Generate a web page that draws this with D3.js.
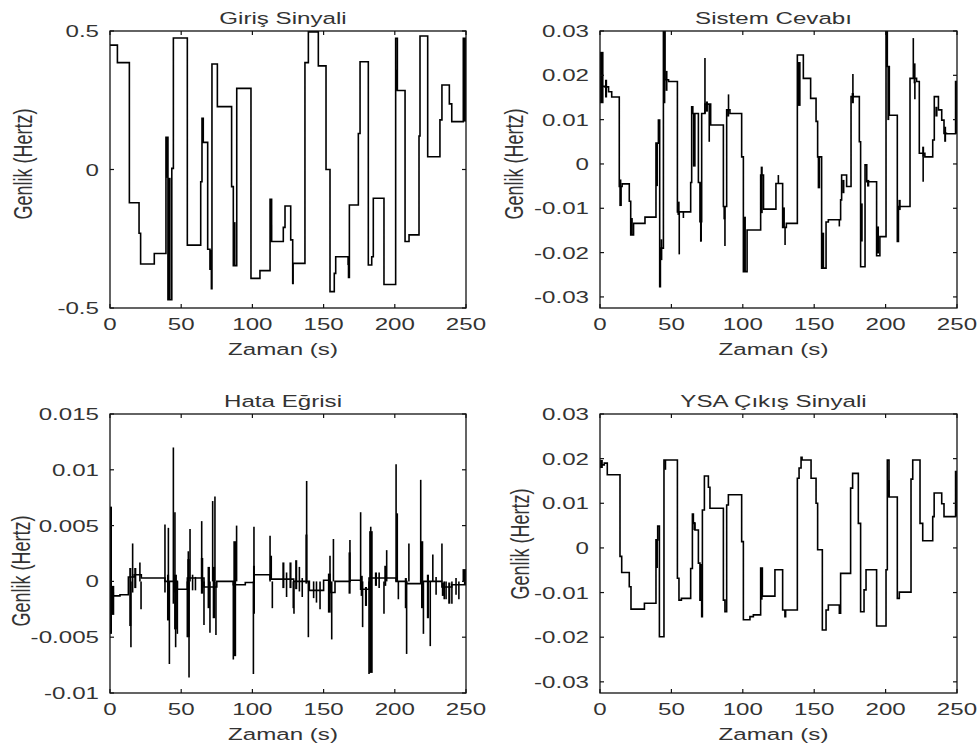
<!doctype html>
<html lang="tr">
<head>
<meta charset="utf-8">
<script src="https://d3js.org/d3.v7.min.js"></script>
<style>
  body { margin: 0; background: #fff; }
  text { font-family: "Liberation Sans", Arial, sans-serif; fill: #333; }
</style>
</head>
<body>
<svg id="plot" width="979" height="751"></svg>
<script>
// ---- data ----
const xTicks = [0, 50, 100, 150, 200, 250];
const xTickLabels = ["0", "50", "100", "150", "200", "250"];

// Giris sinyali: [t, value] steps
const inputSteps = [[0,0.449],[5.2,0.386],[13.6,-0.12],[20.4,-0.23],[21.5,-0.341],[31.1,-0.303],[39.3,0.116],[40.7,-0.47],[43.4,0.004],[44.5,0.475],[54.3,-0.273],[63.7,-0.044],[64.6,0.185],[65.5,0.098],[68.6,-0.288],[70.2,-0.36],[71.2,-0.43],[71.6,0.381],[75.4,0.227],[85.4,-0.062],[86.6,-0.347],[89,0.293],[99,-0.393],[105.3,-0.365],[112.4,-0.108],[113.5,-0.26],[121.7,-0.209],[122.9,-0.132],[126.9,-0.254],[128.3,-0.411],[128.6,-0.339],[136.9,0.386],[139.3,0.497],[146.3,0.374],[151.7,0.0],[154.5,-0.441],[157.5,-0.375],[158.5,-0.315],[167.5,-0.39],[168.1,-0.128],[174.4,0.13],[175.6,0.389],[181.4,-0.345],[183.8,-0.315],[184.9,-0.104],[192.4,-0.415],[200.6,0.474],[201.8,0.285],[207.2,-0.26],[210,-0.236],[217,0.121],[217.7,0.482],[223.1,0.046],[231.7,0.179],[233.1,0.305],[238.3,0.237],[240,0.173],[248.1,0.474]];
// dense switching blocks: [t0, t1, lo, hi]
const inputBursts = [[39.3,40.7,-0.03,0.116],[40.7,42.6,-0.47,-0.03],[70.2,71.2,-0.36,-0.29],[86.6,88.2,-0.347,-0.19],[112.4,113.5,-0.26,-0.2],[166.7,168.1,-0.345,-0.315],[200.6,201.8,0.285,0.36],[248.3,250,0.173,0.474]];

// Sistem cevabi
const respSteps = [[0,0.0175],[3.5,0.0174],[6,0.0163],[8.2,0.0151],[13.5,-0.0051],[15.5,-0.0045],[20.5,-0.0084],[21.5,-0.016],[23.5,-0.0134],[31.5,-0.012],[39.2,0.0047],[40.9,0.0099],[41.8,-0.0277],[42.3,-0.019],[44.4,0.03],[45.5,0.019],[48,0.0186],[54.2,-0.0108],[60.7,-0.0108],[63.5,-0.0042],[64.2,0.0129],[65,0.0114],[68.9,-0.0042],[70,-0.013],[71.2,0.0114],[73.5,0.0135],[77.5,0.0088],[86.4,-0.0096],[88.7,0.0122],[91,0.0114],[99.2,0.0016],[100.4,-0.0243],[103,-0.0149],[112.5,-0.0025],[114.5,-0.0102],[123.2,-0.0044],[127.9,-0.0143],[130.5,-0.0134],[138.2,0.0246],[142.4,0.0193],[147.5,0.0148],[151.3,0.0096],[152.4,0.0016],[155.2,-0.0235],[158.3,-0.0131],[159.9,-0.0126],[168.5,-0.0081],[169.2,-0.0025],[172.7,-0.0051],[175.8,0.0152],[181.6,0.005],[182.5,-0.0232],[185.6,-0.0002],[186.8,-0.004],[193.7,-0.0207],[196,-0.0164],[200.3,0.03],[201.2,0.022],[202.6,0.011],[208.2,-0.0175],[209,-0.0096],[217.1,0.0193],[221.7,0.0186],[223.6,0.0024],[227.5,0.0016],[233,0.0054],[234.1,0.0152],[237,0.0122],[239.3,0.0099],[240.9,0.0069],[242.6,0.0068],[249,0.0186]];
const respBursts = [[0,2.5,0.0137,0.0253],[3.5,5,0.015,0.019],[13.5,15,-0.0095,-0.0035],[21.5,23,-0.016,-0.0122],[39.2,40.4,-0.005,0.0047],[42.3,43.6,-0.0217,-0.017],[44.4,45.5,0.0137,0.03],[45.8,47.3,0.0165,0.021],[54.2,55.8,-0.0115,-0.0085],[65,67,-0.0006,0.0114],[70,71.2,-0.0175,-0.0042],[74,75.6,0.0118,0.0141],[86.4,87.6,-0.0125,-0.0096],[89,90.5,0.0107,0.0122],[100.4,102.2,-0.0243,-0.0119],[112.5,114,-0.0111,-0.0006],[128,129.5,-0.0143,-0.0098],[138.2,140.5,0.0131,0.023],[152.4,154.2,-0.0055,0.0017],[155.2,157,-0.0235,-0.0155],[169.6,171.2,-0.0066,-0.0036],[176.2,177.8,0.0137,0.016],[182.5,184,-0.0175,-0.0089],[187,188.6,-0.0051,-0.0036],[193.7,195.4,-0.0202,-0.0141],[201.2,202.6,0.0099,0.022],[209,210.6,-0.0104,-0.0081],[219.6,221,0.0182,0.0227],[225.6,227,0.0016,0.0039],[234.8,236.4,0.0107,0.0129],[241,242.4,0.005,0.0084],[249,250,0.0068,0.0186]];
// single spikes: [t, lo, hi]
const respSpikes = [[14.7,-0.0095,-0.0051],[55.5,-0.0204,-0.0108],[58.4,-0.0122,-0.0108],[70.6,-0.0175,-0.013],[73.5,0.0114,0.0239],[76.5,0.005,0.0135],[87.5,-0.0185,-0.0096],[90,0.0122,0.0157],[101,-0.0243,-0.02],[124.9,-0.0044,-0.0025],[129.6,-0.0183,-0.0143],[167.6,-0.0141,-0.0126],[177.1,0.0152,0.0203],[219.4,0.0193,0.0284],[220.5,0.0146,0.0186],[226.3,-0.004,0.0016]];

// Hata egrisi
const errSteps = [[0,-0.001],[2.3,-0.0013],[7,-0.0012],[12.9,0.0004],[17,0.0006],[22,0.0003],[38.6,0.0],[47.3,-0.0007],[54.3,0.0003],[66,-0.0005],[75,0.0],[86.6,-0.0003],[95,-0.0001],[101.1,0.0006],[112.4,0.0002],[129,0.0],[140,-0.0008],[150,0.0001],[154.5,-0.001],[158,0.0],[168.5,0.0001],[176,-0.0007],[181.9,0.0003],[200.9,0.0],[208.3,-0.0002],[218.2,0.0],[233.1,-0.0005],[240,-0.0003]];
const errSpikes = [[14.7,-0.0059,0],[15.9,-0.001,0.0034],[21,0,0.0017],[21.8,-0.0025,0],[38.6,-0.001,0.0051],[41,-0.002,0.0048],[41.7,-0.0074,0],[44.5,-0.002,0.012],[45.6,-0.001,0.0062],[46.1,-0.0059,0],[47.3,-0.0047,0],[54.3,-0.005,0],[55,-0.002,0.0027],[55.5,-0.0086,0],[56.2,0,0.0047],[58,-0.0008,0.0006],[60,-0.0008,0.0004],[64.4,0,0.0054],[66,-0.0039,0],[70.2,-0.0046,0],[72.1,0,0.0072],[73.7,0,0.0076],[74.4,-0.0048,0],[86.6,-0.007,0],[88.9,0,0.005],[100.7,-0.0083,0],[101.1,0,0.0049],[112.4,0,0.0041],[114,-0.0024,0],[124,-0.0014,0.0008],[128.7,-0.0024,0],[129.2,-0.0029,0],[133,-0.0009,0.0013],[135,-0.0014,0.0003],[138.1,0,0.009],[139.3,-0.005,0],[143,-0.0015,0],[145,-0.0019,0],[147.5,-0.0025,0],[154.5,-0.001,0.0023],[155.7,-0.0052,0],[156.9,0,0.0038],[168.5,0,0.0037],[176,0,0.0062],[177.4,-0.0041,0],[181.9,-0.0083,0],[183.1,0,0.0049],[189,-0.0006,0.0008],[192.4,-0.0029,0],[194.3,0,0.0028],[200.9,0,0.0105],[202.5,-0.0016,0],[208.3,-0.0065,0],[209.9,0,0.0034],[218.2,0,0.0091],[220.1,-0.0047,0],[224.9,-0.0058,0],[226.7,0,0.0024],[229,-0.0012,0.0004],[233.1,0,0.0034],[234.7,-0.0016,0],[236,-0.0016,0],[240.1,-0.002,0],[243,-0.0012,0.0003],[245,-0.0016,0],[248.1,0,0.0011]];
const errBursts = [[0,1.2,-0.0047,0.0067],[1.2,3,-0.003,-0.0004],[13.5,15,-0.004,0.0012],[17,18.5,-0.0006,0.0012],[40,41.5,-0.0035,0.0006],[45,47,-0.0043,0.0006],[54.3,56,-0.005,0.002],[63.8,65.5,-0.0011,0.0021],[68.5,70.2,-0.0024,0.0013],[72.1,73.8,-0.0033,0.0013],[86.6,88.6,-0.0067,0.0036],[100.4,101.8,-0.0029,0.0014],[112.4,113.6,0.0002,0.0023],[121,122.5,-0.0006,0.0017],[126,127.5,-0.0006,0.0017],[130,131.5,-0.0007,0.0019],[137.2,138.6,-0.0002,0.0042],[153,155,-0.0028,0.0007],[167.5,169,-0.0011,0.0026],[176,177.5,-0.0013,0.0005],[179,180.5,-0.0022,-0.0005],[182,184.5,-0.0082,0.0045],[186,187.5,-0.0004,0.0008],[192.6,194,-0.0004,0.0014],[200.9,202,0,0.0061],[207,208.5,-0.0024,0.0003],[218.4,220,-0.0024,0.0036],[222.5,224,-0.0033,0.0006],[233,234.5,-0.0013,-0.0001],[237.5,239,-0.002,-0.0001],[248.5,250,-0.0003,0.0011]];

// YSA cikis sinyali
const outSteps = [[0,0.0186],[3,0.019],[5.1,0.0164],[14,-0.0019],[15.2,-0.0055],[20.5,-0.0087],[21.7,-0.0137],[31.1,-0.0124],[39.2,0.0018],[40.4,0.0049],[41.6,-0.0199],[44.8,0.0197],[54.2,-0.0068],[55.3,-0.0117],[57,-0.0113],[63.5,-0.0046],[64.7,0.0076],[65.4,0.0055],[66.5,0.004],[68.9,-0.0034],[70,-0.0117],[71.2,-0.0154],[71.7,0.0085],[73.1,0.0161],[75.9,0.0136],[77,0.0089],[86.4,-0.0117],[87.5,-0.0143],[88.7,0.0096],[89.9,0.0119],[99.2,0.0014],[100.4,-0.0161],[105,-0.0154],[107.4,-0.015],[112.5,-0.0045],[113.7,-0.0108],[122.5,-0.0049],[127.9,-0.0139],[129.5,-0.0154],[130,-0.0139],[138.2,0.0156],[139.4,0.0179],[140.8,0.0203],[141.5,0.0197],[147.8,0.0156],[151.3,0.01],[152.4,-0.0004],[155.7,-0.0184],[158.3,-0.0139],[159.9,-0.0128],[167.6,-0.0146],[168.5,-0.0057],[175.5,0.0134],[176.9,0.0167],[180.9,0.0055],[182.5,-0.0143],[184.9,-0.0094],[186.3,-0.0049],[193.7,-0.0175],[200.3,-0.0049],[201.2,0.0197],[202.4,0.0114],[208.2,-0.0113],[209.6,-0.0099],[217.8,0.0154],[219,0.0197],[224.1,0.0055],[226,0.0016],[233,0.007],[234,0.0123],[239.3,0.0099],[240.9,0.007],[249,0.0171]];
const outBursts = [[0,2,0.0179,0.0197],[39.2,40.4,-0.0045,0.0018],[45,46.3,0.0175,0.0197],[65.4,66.5,0.004,0.0058],[70,71.2,-0.0117,-0.0036],[112.5,113.7,-0.0116,-0.0045],[201.6,202.6,0.0114,0.0152],[249,250,0.007,0.0171]];

const yTicks1 = [-0.5, 0, 0.5], yLabels1 = ["-0.5", "0", "0.5"];
const yTicks2 = [-0.03, -0.02, -0.01, 0, 0.01, 0.02, 0.03], yLabels2 = ["-0.03", "-0.02", "-0.01", "0", "0.01", "0.02", "0.03"];
const yTicks3 = [-0.01, -0.005, 0, 0.005, 0.01, 0.015], yLabels3 = ["-0.01", "-0.005", "0", "0.005", "0.01", "0.015"];

// ---- drawing ----
const svg = d3.select("#plot");
const SX = 1.42;   // the picture's text is stretched sideways

function txt(g, x, y, s, anchor, size, rot) {
  return g.append("text")
    .attr("transform", rot ? `translate(${x},${y}) rotate(-90) scale(1,${SX})`
                           : `translate(${x},${y}) scale(${SX},1)`)
    .attr("text-anchor", anchor)
    .attr("dominant-baseline", rot ? "central" : "auto")
    .style("font-size", size + "px")
    .text(s);
}

function panel(id, box, yDom, yT, yL, title, ylab) {
  const x = d3.scaleLinear().domain([0, 250]).range([box.x0, box.x1]);
  const y = d3.scaleLinear().domain(yDom).range([box.y1, box.y0]);
  const g = svg.append("g");

  g.append("clipPath").attr("id", "clip" + id).append("rect")
    .attr("x", box.x0).attr("y", box.y0)
    .attr("width", box.x1 - box.x0).attr("height", box.y1 - box.y0);
  const plot = g.append("g").attr("clip-path", `url(#clip${id})`);

  // box + inward ticks on all sides
  g.append("rect").attr("x", box.x0).attr("y", box.y0)
    .attr("width", box.x1 - box.x0).attr("height", box.y1 - box.y0)
    .attr("fill", "none").attr("stroke", "#111").attr("stroke-width", 1.3);
  const tl = 4;
  xTicks.forEach((t, i) => {
    g.append("line").attr("x1", x(t)).attr("x2", x(t)).attr("y1", box.y1).attr("y2", box.y1 - tl).attr("stroke", "#111").attr("stroke-width", 1.2);
    g.append("line").attr("x1", x(t)).attr("x2", x(t)).attr("y1", box.y0).attr("y2", box.y0 + tl).attr("stroke", "#111").attr("stroke-width", 1.2);
    txt(g, x(t), box.y1 + 22, xTickLabels[i], "middle", 17);
  });
  yT.forEach((v, i) => {
    g.append("line").attr("x1", box.x0).attr("x2", box.x0 + tl).attr("y1", y(v)).attr("y2", y(v)).attr("stroke", "#111").attr("stroke-width", 1.2);
    g.append("line").attr("x1", box.x1).attr("x2", box.x1 - tl).attr("y1", y(v)).attr("y2", y(v)).attr("stroke", "#111").attr("stroke-width", 1.2);
    txt(g, box.x0 - 11, y(v) + 6, yL[i], "end", 17);
  });

  const cx = (box.x0 + box.x1) / 2 - 5;
  txt(g, cx, box.y0 - 7, title, "middle", 17);
  txt(g, cx, box.y1 + 47, "Zaman (s)", "middle", 17);
  txt(g, ylab[0], ylab[1], "Genlik (Hertz)", "middle", 18, true);

  return { x, y, plot };
}

function drawSteps(p, steps, bursts, spikes) {
  const pts = steps.concat([[250, steps[steps.length - 1][1]]]);
  const line = d3.line().x(d => p.x(d[0])).y(d => p.y(d[1])).curve(d3.curveStepAfter);
  p.plot.append("path").datum(pts).attr("d", line)
    .attr("fill", "none").attr("stroke", "#000").attr("stroke-width", 1.6);
  p.plot.selectAll(null).data(bursts || []).enter().append("rect")
    .attr("x", d => p.x(d[0]))
    .attr("width", d => Math.max(2, p.x(d[1]) - p.x(d[0])))
    .attr("y", d => p.y(d[3]))
    .attr("height", d => Math.max(1.5, p.y(d[2]) - p.y(d[3])))
    .attr("fill", "#000");
  p.plot.selectAll(null).data(spikes || []).enter().append("line")
    .attr("x1", d => p.x(d[0])).attr("x2", d => p.x(d[0]))
    .attr("y1", d => p.y(d[1])).attr("y2", d => p.y(d[2]))
    .attr("stroke", "#000").attr("stroke-width", 1.6);
}

const p1 = panel(1, {x0: 110, x1: 466, y0: 31, y1: 308}, [-0.5, 0.5], yTicks1, yLabels1, "Giriş Sinyali", [23, 164]);
const p2 = panel(2, {x0: 600, x1: 957, y0: 31, y1: 308}, [-0.0325, 0.03], yTicks2, yLabels2, "Sistem Cevabı", [514, 164]);
const p3 = panel(3, {x0: 110, x1: 466, y0: 414, y1: 693}, [-0.01, 0.015], yTicks3, yLabels3, "Hata Eğrisi", [21, 571]);
const p4 = panel(4, {x0: 600, x1: 957, y0: 414, y1: 693}, [-0.0325, 0.03], yTicks2, yLabels2, "YSA Çıkış Sinyali", [520, 544]);

drawSteps(p1, inputSteps, inputBursts, []);
drawSteps(p2, respSteps, respBursts, respSpikes);
drawSteps(p3, errSteps, errBursts, errSpikes);
drawSteps(p4, outSteps, outBursts, []);
</script>
</body>
</html>
